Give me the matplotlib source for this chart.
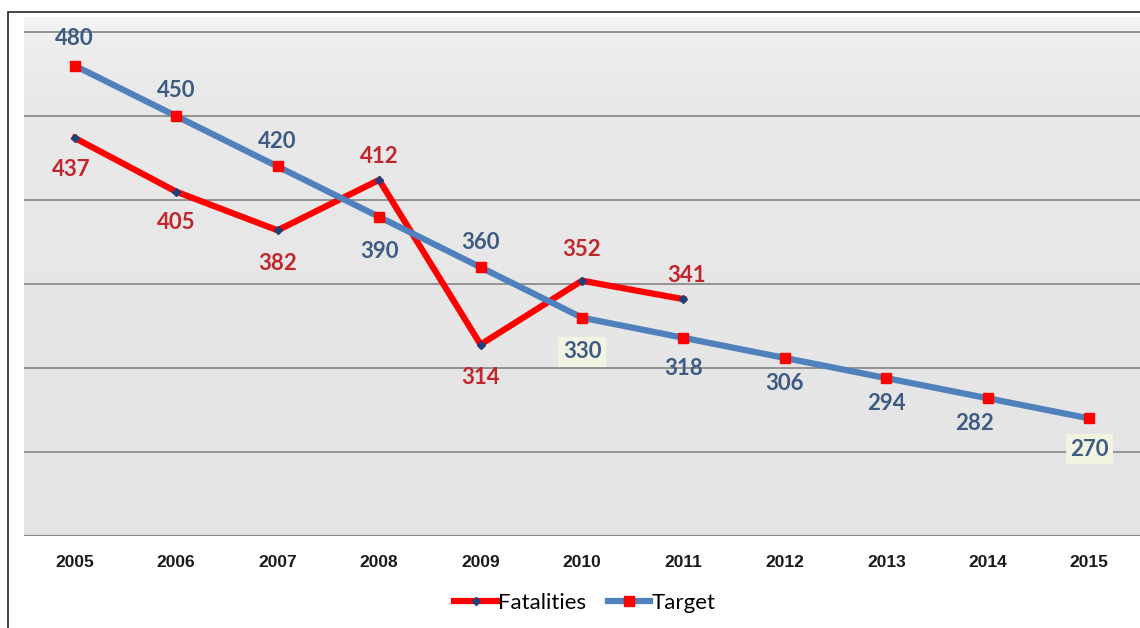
import matplotlib
matplotlib.use("Agg")
import matplotlib.pyplot as plt
import numpy as np
from matplotlib.patches import Rectangle
from matplotlib.colors import LinearSegmentedColormap

years = ["2005", "2006", "2007", "2008", "2009", "2010", "2011", "2012", "2013", "2014", "2015"]
fatalities = [437, 405, 382, 412, 314, 352, 341]
target = [480, 450, 420, 390, 360, 330, 318, 306, 294, 282, 270]

# label offsets in pixels (dx, dy up)
fat_off = [(-3, -30), (0, -29), (0, -31), (0, 25), (0, -31), (0, 33), (3, 26)]
tgt_off = [(0, 29), (0, 28), (0, 27), (0, -33), (0, 27), (0, -32), (0, -29),
           (0, -24), (0, -23), (-13, -23), (0, -29)]

RED = "#ff0000"
BLUE = "#4f81bd"
RED_TXT = "#c0272d"
BLUE_TXT = "#3e5b84"

fig = plt.figure(figsize=(11.4, 6.28), dpi=100)
W, H = 1140, 628
ax = fig.add_axes([24 / W, (H - 536) / H, (1140 - 24) / W, (536 - 17) / H])

x = np.arange(len(years))
ax.set_xlim(-0.5, len(years) - 0.5)
ax.set_ylim(200, 509)

# background: nearly uniform gray, lighter just at the top
grad = np.linspace(0, 1, 256).reshape(-1, 1)
cmap = LinearSegmentedColormap.from_list(
    "bg", [(0, "#e4e4e4"), (0.85, "#e9e9e9"), (0.95, "#eeeeee"), (1, "#f4f4f4")])
ax.imshow(grad, extent=(-0.5, len(years) - 0.5, 200, 509), origin="lower",
          aspect="auto", cmap=cmap, zorder=0, vmin=0, vmax=1)

for gy in [250, 300, 350, 400, 450, 500]:
    ax.axhline(gy, color="#8c8c8c", lw=1.3, zorder=1)
ax.axhline(200, color="#8c8c8c", lw=1.6, zorder=1)

ax.plot(x[:len(fatalities)], fatalities, color=RED, lw=4.5, marker="D",
        markersize=4.5, markerfacecolor="#1f3f7a", markeredgecolor="#1f3f7a",
        zorder=3, label="Fatalities", solid_joinstyle="miter")
ax.plot(x, target, color=BLUE, lw=4.5, marker="s", markersize=7,
        markerfacecolor=RED, markeredgecolor=RED, zorder=4, label="Target")

font = dict(family=["Lato", "DejaVu Sans"], fontsize=16, fontweight="bold")
for i, v in enumerate(fatalities):
    dx, dy = fat_off[i]
    ax.annotate(str(v), (x[i], v), xytext=(dx, dy - 2), textcoords="offset pixels",
                ha="center", va="center", color=RED_TXT, zorder=5, **font)
for i, v in enumerate(target):
    dx, dy = tgt_off[i]
    bbox = None
    if years[i] in ("2010", "2015"):
        bbox = dict(boxstyle="square,pad=0.2", fc="#f2f4e2", ec="none")
    ax.annotate(str(v), (x[i], v), xytext=(dx, dy - 2), textcoords="offset pixels",
                ha="center", va="center", color=BLUE_TXT, zorder=5, bbox=bbox, **font)

ax.set_xticks(x)
ax.set_xticklabels(years, fontsize=12.5, fontweight="bold",
                   family=["Liberation Sans", "DejaVu Sans"], color="#1a1a1a")
ax.tick_params(axis="x", length=0, pad=14)
ax.set_yticks([])
for s in ax.spines.values():
    s.set_visible(False)

leg = fig.legend(loc="center", bbox_to_anchor=(585 / W, 1 - 603 / H), ncol=2,
                 frameon=False, handlelength=1.9, handletextpad=0.05, columnspacing=1.0,
                 prop=dict(family=["Lato", "DejaVu Sans"], size=16))

# outer border
fig.patches.append(Rectangle((8 / W, -0.1), 1.2, 1 - 12 / H + 0.1, transform=fig.transFigure,
                             fill=False, ec="#222222", lw=1.2))

fig.savefig("out.png", dpi=100)
